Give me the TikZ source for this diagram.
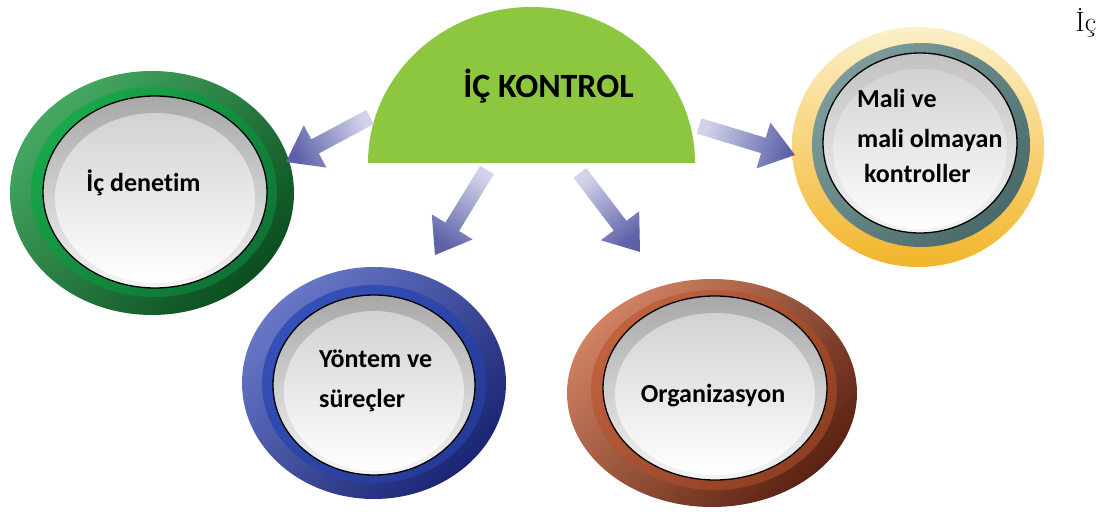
\documentclass[tikz,border=0pt]{standalone}
\usepackage{fontspec}
\newfontfamily\lblfont{Carlito}[Ligatures={NoCommon}]
\usetikzlibrary{shapes.geometric,calc}
\definecolor{semigreen}{HTML}{8DC63F}
\definecolor{arrL}{HTML}{D2D3EA}
\definecolor{arrD}{HTML}{5C61A8}
\definecolor{gL}{HTML}{45A862}
\definecolor{gD}{HTML}{0B4E20}
\definecolor{gM}{HTML}{18A84A}
\definecolor{gM2}{HTML}{0E7434}
\definecolor{bL}{HTML}{6878C6}
\definecolor{bD}{HTML}{1A2574}
\definecolor{bM}{HTML}{3550B8}
\definecolor{bM2}{HTML}{243A98}
\definecolor{rL}{HTML}{D08262}
\definecolor{rD}{HTML}{5A2212}
\definecolor{rM}{HTML}{C0623E}
\definecolor{rM2}{HTML}{8E3E22}
\definecolor{yL}{HTML}{FCF0C8}
\definecolor{yD}{HTML}{F2B52A}
\definecolor{tL}{HTML}{7E9C9C}
\definecolor{tD}{HTML}{4A6A6A}
\definecolor{discT}{HTML}{A8A8A8}
\definecolor{discB}{HTML}{F4F4F4}
\tikzset{
  lbl/.style={font=\lblfont\bfseries\fontsize{26}{31}\selectfont, text=black, inner sep=0pt},
  ringouter/.style={ellipse, inner sep=0pt, top color=#1L, bottom color=#1D, shading angle=45},
  ringmid/.style={ellipse, inner sep=0pt, top color=#1M, bottom color=#1M2, shading angle=45},
  disc/.style={ellipse, inner sep=0pt, draw=black, line width=1.3pt, top color=discT, bottom color=discB},
  discin/.style={ellipse, inner sep=0pt, top color=discT!45!discB, bottom color=white},
}
\newcommand\blockarr[3]{%
  \coordinate (#1h) at ($(#2)!33pt!(#1)$);
  \shade[top color=arrL, bottom color=arrD, shading angle=#3]
    ($(#1)!8pt!90:(#2)$) -- ($(#1h)!8pt!90:(#2)$) -- ($(#1h)!24pt!90:(#2)$) -- (#2)
    -- ($(#1h)!24pt!-90:(#2)$) -- ($(#1h)!8pt!-90:(#2)$) -- ($(#1)!8pt!-90:(#2)$) -- cycle;
}
\begin{document}
\begin{tikzpicture}[x=1pt,y=-1pt]
\useasboundingbox[fill=white] (0,0) rectangle (1105,521);

% central half disc
\fill[semigreen] (368,163) arc[start angle=180, end angle=360, x radius=163.5, y radius=156] -- cycle;
\node[lbl, font=\lblfont\bfseries\fontsize{34}{40}\selectfont, anchor=base] (title) at (548.5,98) {İÇ KONTROL};

% green ring
\node[ringouter=g, minimum width=284pt, minimum height=244pt] (denetim) at (152,193) {};
\node[ringmid=g, minimum width=246pt, minimum height=210pt] (denetimM) at (154,192) {};
\node[disc, minimum width=224pt, minimum height=192pt] (denetimD) at (155,192) {};
\node[discin, minimum width=200pt, minimum height=170pt] (denetimI) at (155,198) {};
\node[lbl, anchor=base] (denetimT) at (143.5,192) {İç denetim};

% blue ring
\node[ringouter=b, minimum width=264pt, minimum height=232pt] (yontem) at (374,383) {};
\node[ringmid=b, minimum width=224pt, minimum height=198pt] (yontemM) at (374,384) {};
\node[disc, minimum width=202pt, minimum height=180pt] (yontemD) at (374,385) {};
\node[discin, minimum width=180pt, minimum height=160pt] (yontemI) at (374,391) {};
\node[lbl, anchor=base west] (yontemT1) at (319,367) {Yöntem ve};
\node[lbl, anchor=base west] (yontemT2) at (319,407) {süreçler};

% brown ring
\node[ringouter=r, minimum width=290pt, minimum height=228pt] (org) at (712,393) {};
\node[ringmid=r, minimum width=246pt, minimum height=200pt] (orgM) at (714,390) {};
\node[disc, minimum width=224pt, minimum height=184pt] (orgD) at (715,388) {};
\node[discin, minimum width=200pt, minimum height=162pt] (orgI) at (715,394) {};
\node[lbl, anchor=base] (orgT) at (713,402) {Organizasyon};

% gold / teal ring
\node[ellipse, inner sep=0pt, top color=yL, bottom color=yD, minimum width=252pt, minimum height=240pt] (mali) at (918,147) {};
\node[ellipse, inner sep=0pt, top color=tL, bottom color=tD, shading angle=45, minimum width=218pt, minimum height=204pt] (maliM) at (921,145) {};
\node[disc, top color=discT!70!white, minimum width=194pt, minimum height=180pt] (maliD) at (920,143) {};
\node[discin, minimum width=174pt, minimum height=160pt] (maliI) at (920,149) {};
\node[lbl, anchor=base west] (maliT1) at (857,108) {Mali ve};
\node[lbl, anchor=base west] (maliT2) at (857,148) {mali olmayan};
\node[lbl, anchor=base west] (maliT3) at (864,183) {kontroller};

% arrows
\coordinate (a1s) at (370,117); \coordinate (a1e) at (286,162);
\coordinate (a2s) at (487,170); \coordinate (a2e) at (435,255);
\coordinate (a3s) at (580,173); \coordinate (a3e) at (640,252);
\coordinate (a4s) at (699,126); \coordinate (a4e) at (795,155);
\blockarr{a1s}{a1e}{297.9}
\blockarr{a2s}{a2e}{328.5}
\blockarr{a3s}{a3e}{37}
\blockarr{a4s}{a4e}{73}

% stray page text
\node[font=\rmfamily\fontsize{28}{32}\selectfont, anchor=base, inner sep=0pt] (stray) at (1086,32) {İç};
\end{tikzpicture}
\end{document}
